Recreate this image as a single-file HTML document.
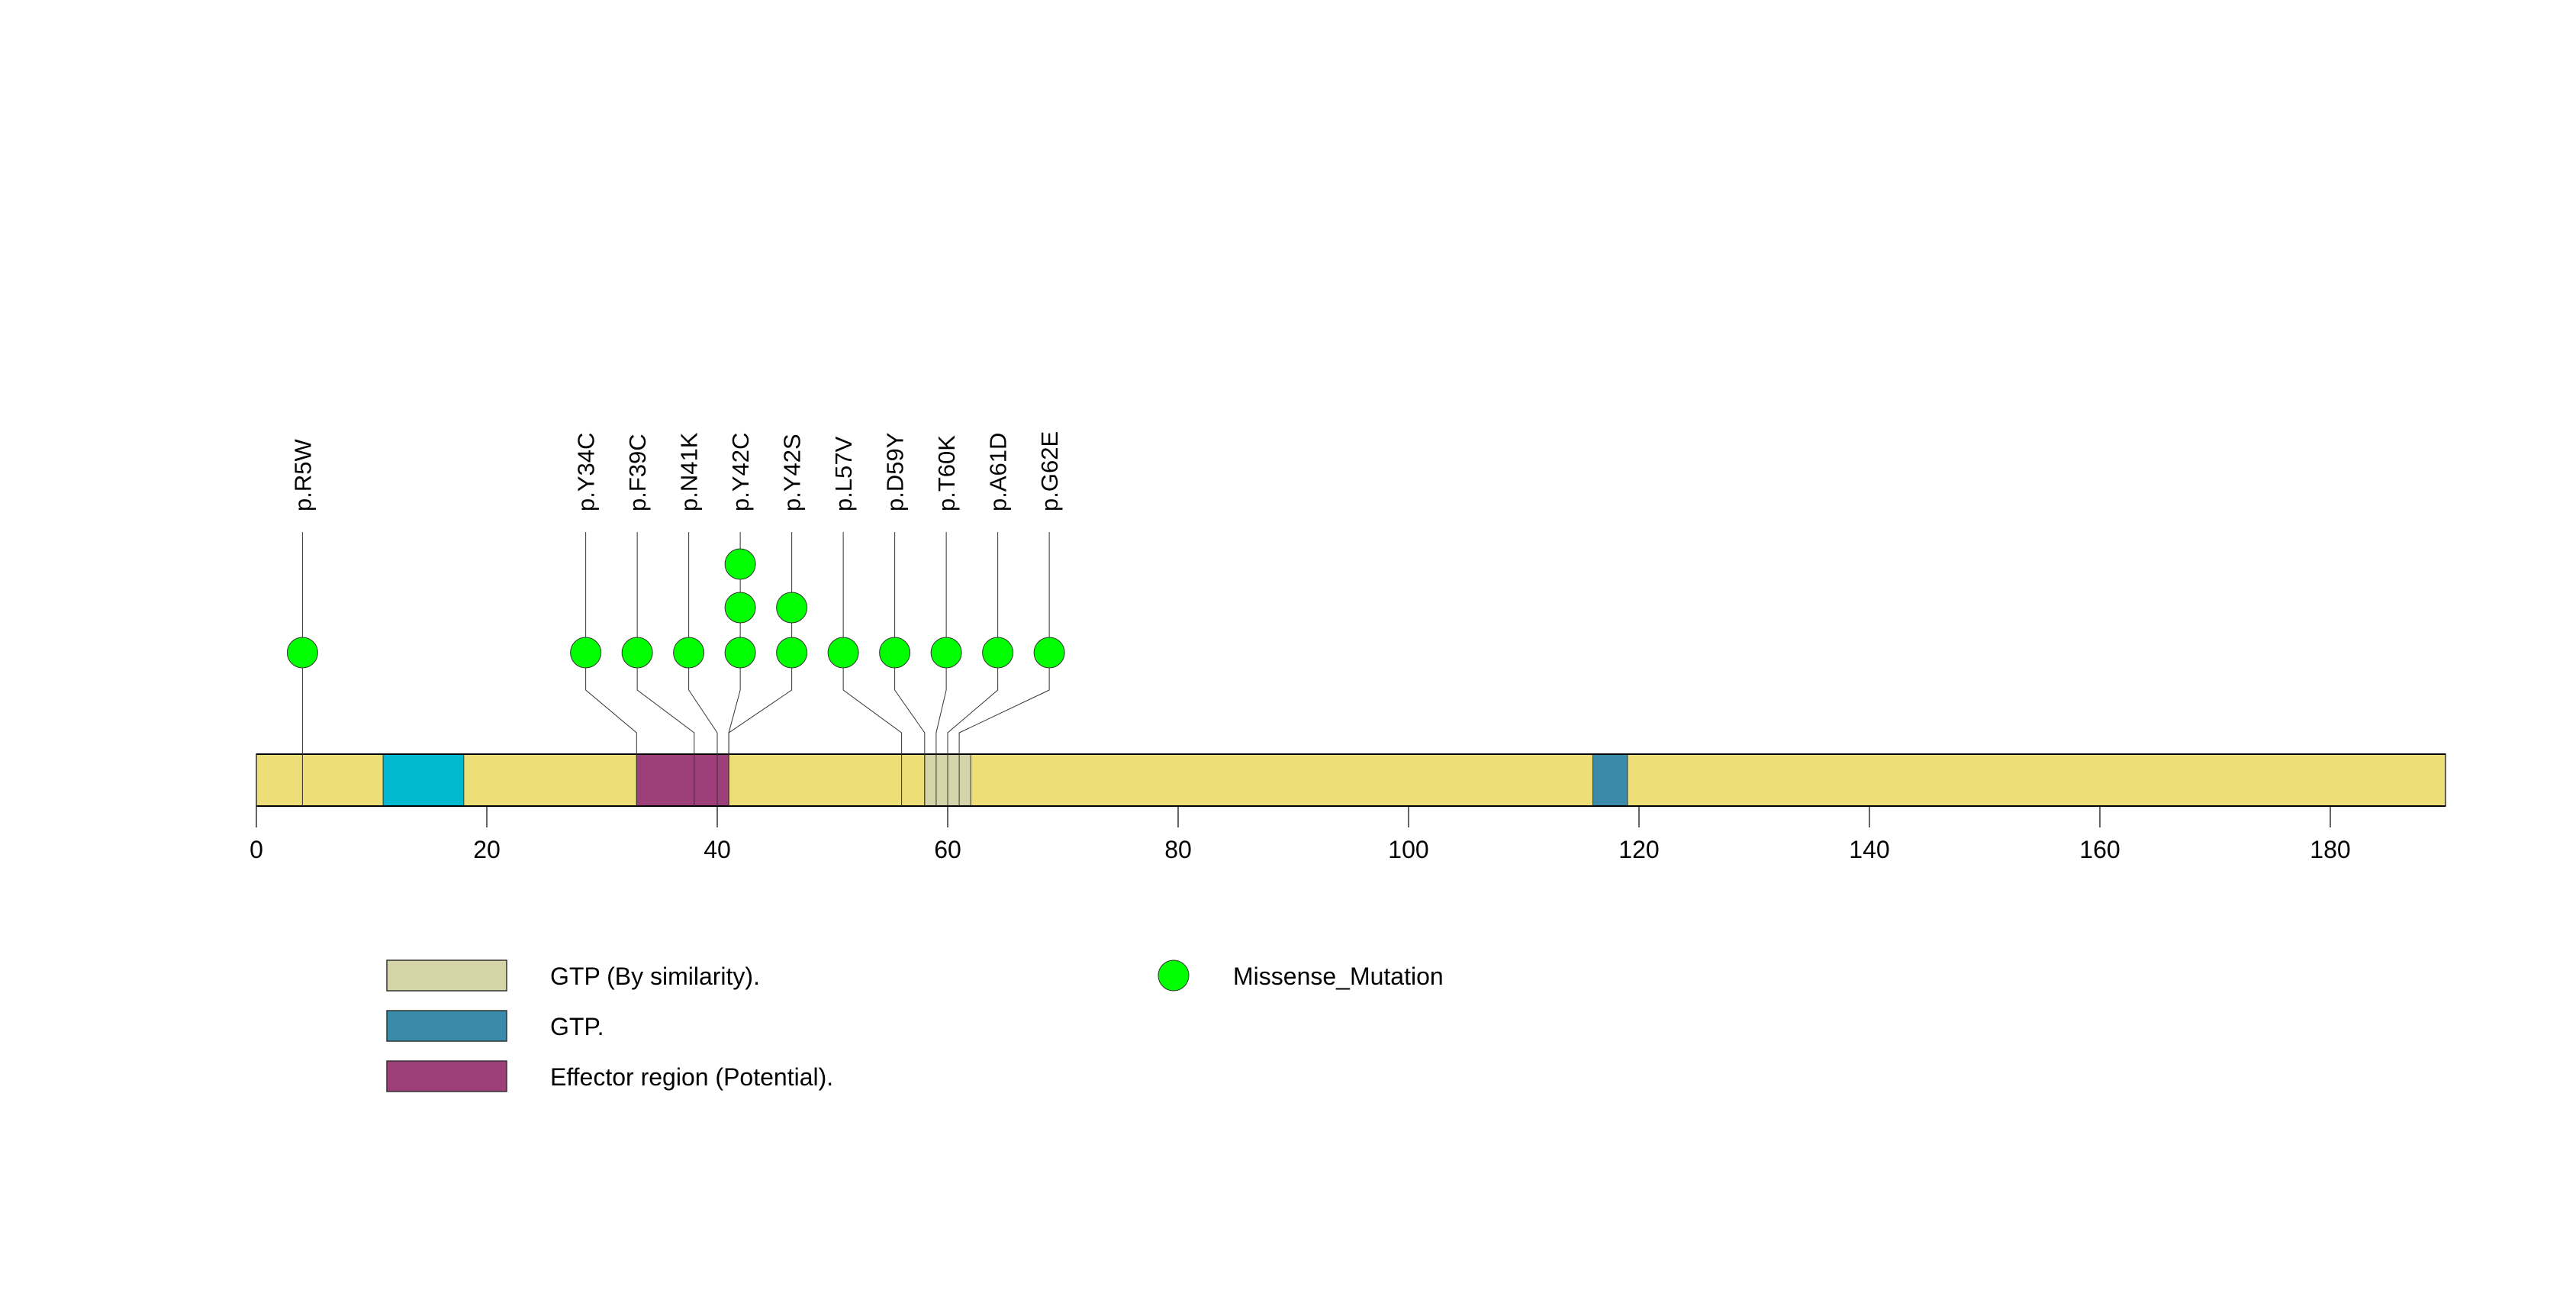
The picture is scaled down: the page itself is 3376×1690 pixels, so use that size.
<!DOCTYPE html>
<html><head><meta charset="utf-8"><style>
html,body{margin:0;padding:0;background:#fff}
svg{display:block;font-family:"Liberation Sans",sans-serif}
</style></head><body>
<svg id="chart" width="3376" height="1690" viewBox="0 0 3376 1690" xmlns="http://www.w3.org/2000/svg">
<rect width="3376" height="1690" fill="#fff"/>
<g id="axis"></g>
<g id="protein"></g>
<g id="muts"></g>
<g id="legend">
  <rect x="507" y="1258" width="157" height="40" fill="#D5D4A8" stroke="#333" stroke-width="1.5"/>
  <text x="721" y="1290" font-size="32">GTP (By similarity).</text>
  <rect x="507" y="1324" width="157" height="40" fill="#3A8BAA" stroke="#333" stroke-width="1.5"/>
  <text x="721" y="1356" font-size="32">GTP.</text>
  <rect x="507" y="1390" width="157" height="40" fill="#9E3F7A" stroke="#333" stroke-width="1.5"/>
  <text x="721" y="1422" font-size="32">Effector region (Potential).</text>
  <circle cx="1538" cy="1278" r="20" fill="#00FF00" stroke="#333" stroke-width="1"/>
  <text x="1616" y="1290" font-size="32">Missense_Mutation</text>
</g>
</svg>
<script>
const proteinLength = 190;
const tickValues = [0,20,40,60,80,100,120,140,160,180];
const domainStarts = [11, 33, 58, 116];
const domainEnds = [18, 41, 62, 119];
const domainColors = ["#00B8D0","#9E3F7A","#D5D4A8","#3A8BAA"];
const domainNames = ["domain-cyan","effector-region","gtp-similarity","gtp"];
const mutLabels = ["p.R5W","p.Y34C","p.F39C","p.N41K","p.Y42C","p.Y42S","p.L57V","p.D59Y","p.T60K","p.A61D","p.G62E"];
const mutPositions = [5,34,39,41,42,42,57,59,60,61,62];
const mutCounts = [1,1,1,1,3,2,1,1,1,1,1];

const NS="http://www.w3.org/2000/svg";
const X0=336, PX=15.1;
const x = v => X0 + v*PX;
const barTop=988, barBot=1056;
function mk(tag, attrs, parent){const e=document.createElementNS(NS,tag);for(const k in attrs)e.setAttribute(k,attrs[k]);parent.appendChild(e);return e;}

const axis=document.getElementById('axis');
tickValues.forEach(t=>{
  const l=mk('line',{x1:x(t),x2:x(t),y1:barBot,y2:1084,stroke:'#000','stroke-width':1.2},axis);
  
  
  const tx=mk('text',{x:x(t),y:1124,'font-size':32,'text-anchor':'middle'},axis);
  tx.textContent=t;
  
  
});

const prot=document.getElementById('protein');
const bg=mk('rect',{x:x(0),y:barTop,width:proteinLength*PX,height:barBot-barTop,fill:'#EDDE78',stroke:'#333','stroke-width':1.5},prot);


domainStarts.forEach((s,i)=>{
  const r=mk('rect',{x:x(s),y:barTop,width:(domainEnds[i]-s)*PX,height:barBot-barTop,fill:domainColors[i],stroke:'#333','stroke-width':1},prot);
  
  
});
mk('line',{x1:x(0),x2:x(proteinLength),y1:barBot,y2:barBot,stroke:'#000','stroke-width':2},prot);
mk('line',{x1:x(0),x2:x(proteinLength),y1:barTop,y2:barTop,stroke:'#000','stroke-width':2},prot);

const minGap=67.5;
const ideal=mutPositions.map(p=>x(p-1));
let groups=ideal.map((v,i)=>({idx:[i],sum:v}));
const first=g=>g.sum/g.idx.length-(g.idx.length-1)*minGap/2;
const last=g=>g.sum/g.idx.length+(g.idx.length-1)*minGap/2;
let changed=true;
while(changed){
  changed=false;
  for(let k=0;k<groups.length-1;k++){
    if(first(groups[k+1])-last(groups[k])<minGap){
      groups[k].idx=groups[k].idx.concat(groups[k+1].idx);
      groups[k].sum+=groups[k+1].sum;
      groups.splice(k+1,1);
      changed=true;break;
    }
  }
}
const disp=[];
groups.forEach(g=>{const f=first(g);g.idx.forEach((id,k)=>disp[id]=f+k*minGap);});

const muts=document.getElementById('muts');
const rowY=[855,796,739];
mutLabels.forEach((lab,i)=>{
  const bx=ideal[i], cx=disp[i];
  const p=mk('polyline',{points:`${cx},697 ${cx},904 ${bx},960 ${bx},${barBot}`,fill:'none',stroke:'#333','stroke-width':1},muts);
  
  
  for(let k=0;k<mutCounts[i];k++){
    const c=mk('circle',{cx:cx,cy:rowY[k],r:20,fill:'#00FF00',stroke:'#333','stroke-width':1},muts);
    
    
  }
  const t=mk('text',{x:0,y:0,'font-size':31,'text-anchor':'start',transform:`translate(${cx+11},670) rotate(-90)`},muts);
  t.textContent=lab;
  
  
});
</script>
</body></html>
